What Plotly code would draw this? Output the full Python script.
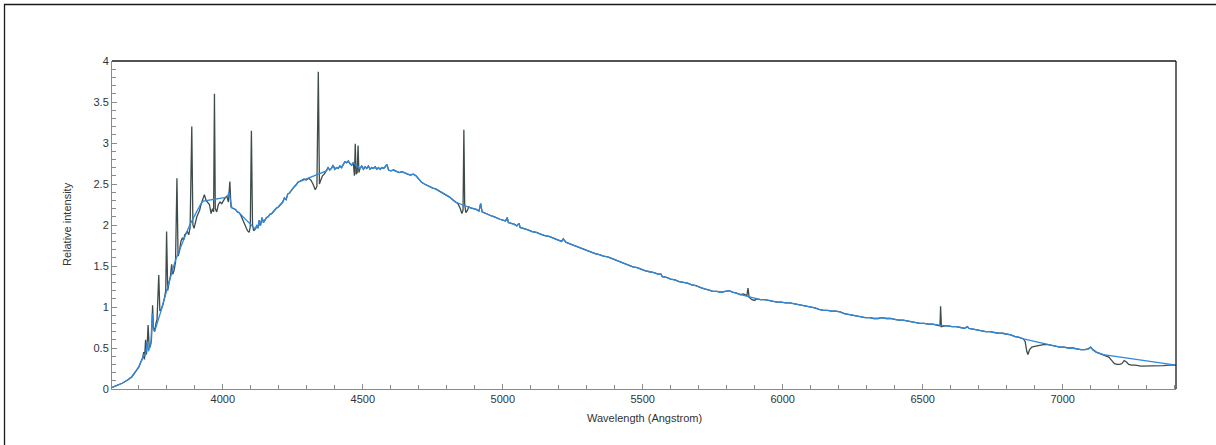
import plotly.graph_objects as go

# Continuum-corrected spectrum (shared by both traces outside the line windows)
base_wl = [
    3605, 3620, 3640, 3660, 3675, 3690, 3700, 3706, 3711, 3715, 3719, 3722, 3726, 3730,
    3734, 3738, 3743, 3748, 3752, 3757, 3763, 3770, 3778, 3786, 3794, 3802, 3810, 3818,
    3826, 3834, 3842, 3850, 3858, 3866, 3874, 3882, 3890, 3898, 3906, 3914, 3922, 3930,
    4016, 4022, 4032, 4038, 4045, 4052, 4058,
    4116, 4122, 4126, 4130, 4134, 4140, 4145, 4150, 4156, 4162, 4168, 4175, 4182, 4190,
    4198, 4206, 4214, 4220, 4226, 4232, 4238, 4244, 4250, 4256, 4262, 4268, 4274,
    4370, 4376, 4382, 4388, 4394, 4400, 4406, 4412, 4418, 4424, 4430, 4436, 4442, 4448,
    4454, 4460, 4466,
    4490, 4496, 4502, 4508, 4514, 4520, 4526, 4532, 4538, 4544, 4550, 4556, 4562, 4568,
    4574, 4580, 4586, 4592, 4600, 4610, 4620, 4630, 4640, 4650, 4660, 4670, 4680, 4690,
    4700, 4710, 4720, 4730, 4740, 4750, 4760, 4770, 4780, 4790, 4800, 4810, 4820, 4830,
    4885, 4895, 4905, 4915, 4921, 4926, 4932, 4940, 4950, 4960, 4970, 4980, 4990, 5000,
    5010, 5016, 5020, 5030, 5040, 5050, 5058, 5062, 5075, 5090, 5105, 5120, 5135, 5150,
    5165, 5180, 5195, 5210, 5216, 5225, 5240, 5255, 5270, 5285, 5300, 5315, 5330, 5345,
    5360, 5375, 5390, 5405, 5420, 5435, 5450, 5465, 5480, 5495, 5510, 5525, 5540, 5555,
    5565, 5570, 5585, 5600, 5615, 5630, 5645, 5660, 5675, 5690, 5705, 5720, 5735, 5750,
    5765, 5780, 5795, 5810, 5820, 5835, 5850,
    5905, 5920, 5935, 5950, 5965, 5980, 5995, 6010, 6025, 6040, 6055, 6070, 6085, 6100,
    6115, 6130, 6145, 6160, 6175, 6190, 6205, 6220, 6235, 6250, 6265, 6280, 6295, 6310,
    6325, 6340, 6355, 6370, 6385, 6400, 6415, 6430, 6445, 6460, 6475, 6490, 6505, 6520,
    6535, 6550, 6560,
    6578, 6590, 6605, 6620, 6635, 6650, 6660, 6665, 6680, 6695, 6710, 6725, 6740, 6755,
    6770, 6785, 6800, 6815, 6830, 6845, 6860,
    6960, 6975, 6990, 7005, 7020, 7035, 7050, 7065, 7080, 7092, 7100, 7108, 7120, 7135,
    7145, 7405,
]
base_flux = [
    0.02, 0.04, 0.07, 0.11, 0.15, 0.22, 0.27, 0.32, 0.36, 0.38, 0.43, 0.40, 0.46, 0.58,
    0.46, 0.50, 0.56, 0.92, 0.72, 0.71, 0.77, 0.85, 0.94, 1.04, 1.14, 1.24, 1.34, 1.43,
    1.52, 1.60, 1.67, 1.75, 1.82, 1.88, 1.94, 2.00, 2.06, 2.11, 2.16, 2.21, 2.26, 2.29,
    2.34, 2.40, 2.21, 2.20, 2.19, 2.16, 2.15,
    1.95, 2.00, 1.96, 2.06, 1.99, 2.09, 2.03, 2.06, 2.09, 2.10, 2.13, 2.14, 2.17, 2.20,
    2.22, 2.25, 2.28, 2.33, 2.31, 2.38, 2.39, 2.42, 2.45, 2.47, 2.49, 2.52, 2.53,
    2.66, 2.70, 2.67, 2.69, 2.73, 2.68, 2.70, 2.69, 2.72, 2.70, 2.74, 2.77, 2.76, 2.78,
    2.75, 2.73, 2.76,
    2.69, 2.72, 2.68, 2.71, 2.69, 2.72, 2.68, 2.70, 2.69, 2.71, 2.68, 2.70, 2.68, 2.70,
    2.69, 2.71, 2.74, 2.67, 2.66, 2.67, 2.65, 2.64, 2.65, 2.63, 2.62, 2.61, 2.62, 2.60,
    2.56, 2.52, 2.50, 2.48, 2.47, 2.45, 2.44, 2.42, 2.41, 2.38, 2.36, 2.34, 2.31, 2.28,
    2.21, 2.20, 2.19, 2.17, 2.26, 2.16, 2.15, 2.14, 2.12, 2.11, 2.10, 2.08, 2.07, 2.06,
    2.05, 2.09, 2.03, 2.02, 2.01, 1.99, 2.02, 1.97, 1.96, 1.94, 1.92, 1.91, 1.89, 1.87,
    1.86, 1.84, 1.82, 1.80, 1.83, 1.79, 1.77, 1.75, 1.73, 1.71, 1.69, 1.67, 1.65, 1.64,
    1.62, 1.61, 1.59, 1.57, 1.55, 1.53, 1.51, 1.49, 1.48, 1.46, 1.44, 1.43, 1.42, 1.40,
    1.40, 1.37, 1.36, 1.34, 1.33, 1.31, 1.30, 1.29, 1.27, 1.26, 1.24, 1.22, 1.21, 1.19,
    1.19, 1.18, 1.19, 1.20, 1.18, 1.17, 1.15,
    1.10, 1.09, 1.09, 1.08, 1.07, 1.06, 1.06, 1.05, 1.05, 1.04, 1.03, 1.02, 1.01, 1.00,
    0.99, 0.97, 0.96, 0.96, 0.95, 0.95, 0.94, 0.92, 0.91, 0.90, 0.89, 0.88, 0.87, 0.87,
    0.86, 0.86, 0.87, 0.86, 0.86, 0.85, 0.84, 0.84, 0.83, 0.82, 0.81, 0.80, 0.80, 0.79,
    0.79, 0.78, 0.78,
    0.77, 0.77, 0.76, 0.76, 0.75, 0.74, 0.76, 0.74, 0.73, 0.72, 0.71, 0.70, 0.70, 0.69,
    0.68, 0.68, 0.67, 0.66, 0.64, 0.63, 0.61,
    0.53, 0.52, 0.51, 0.51, 0.50, 0.50, 0.49, 0.48, 0.48, 0.49, 0.51, 0.48, 0.45, 0.43,
    0.42, 0.29,
]

# Wavelength windows where the observed spectrum has its own features
line_windows = [
    (3712, 3932), (3932, 4030), (4060, 4115), (4276, 4368), (4467, 4489),
    (4836, 4880), (5852, 5904), (6561, 6577), (6862, 6958), (7146, 7400),
]

# Observed spectrum inside those windows (emission lines, telluric bands)
line_wl = [
    3714, 3717, 3720, 3724, 3727, 3730, 3733, 3737, 3741, 3745, 3749, 3752, 3756, 3761,
    3765, 3771, 3775, 3780, 3786, 3792, 3796, 3799, 3803, 3808, 3813, 3817, 3821, 3826,
    3831, 3836, 3840, 3845, 3850, 3855, 3860, 3864, 3868, 3873, 3878, 3883, 3889, 3893,
    3897, 3902, 3907, 3912, 3917, 3922, 3927,
    3934, 3940, 3946, 3952, 3958, 3963, 3967, 3970, 3973, 3978, 3984, 3990, 3996, 4002,
    4008, 4014, 4020, 4025, 4029,
    4064, 4070, 4076, 4082, 4088, 4094, 4098, 4102, 4106, 4110, 4114,
    4282, 4290, 4298, 4306, 4314, 4322, 4330, 4336, 4341, 4345, 4350, 4356, 4362,
    4470, 4473, 4476, 4480, 4483, 4486,
    4840, 4848, 4854, 4858, 4861, 4864, 4868, 4874, 4878,
    5860, 5872, 5876, 5880, 5890, 5900,
    6562, 6564, 6567,
    6866, 6872, 6876, 6882, 6890, 6900, 6912, 6924, 6936, 6948,
    7155, 7165, 7175, 7185, 7195, 7205, 7212, 7220, 7228, 7236, 7246, 7260, 7280, 7300,
    7320, 7340, 7360, 7380, 7395,
]
line_flux = [
    0.38, 0.45, 0.36, 0.60, 0.42, 0.55, 0.78, 0.50, 0.52, 0.60, 1.02, 0.75, 0.70, 0.80,
    0.85, 1.39, 0.95, 0.97, 1.03, 1.12, 1.20, 1.92, 1.20, 1.30, 1.38, 1.52, 1.40, 1.45,
    1.55, 2.57, 1.62, 1.68, 1.80, 1.84, 1.82, 1.88, 1.90, 1.92, 1.88, 1.97, 3.20, 2.00,
    1.96, 2.05, 2.10, 2.14, 2.18, 2.25, 2.30,
    2.37, 2.30, 2.28, 2.25, 2.14, 2.20, 2.16, 3.60, 2.20, 2.16, 2.25, 2.28, 2.26, 2.30,
    2.33, 2.35, 2.28, 2.53, 2.22,
    2.12, 2.07, 2.02, 1.97, 1.93, 1.91, 1.98, 3.15, 2.00, 1.93, 1.94,
    2.55, 2.56, 2.55, 2.57, 2.55, 2.50, 2.43, 2.47, 3.87, 2.50, 2.55, 2.60, 2.62,
    2.60, 2.99, 2.62, 2.64, 2.97, 2.64,
    2.26, 2.20, 2.14, 2.18, 3.16, 2.25, 2.15, 2.18, 2.22,
    1.16, 1.14, 1.23, 1.12, 1.09, 1.08,
    0.77, 1.01, 0.76,
    0.58, 0.46, 0.42, 0.48, 0.51, 0.52, 0.53, 0.54, 0.545, 0.54,
    0.41, 0.39, 0.35, 0.31, 0.30, 0.30, 0.31, 0.345, 0.33, 0.30, 0.29, 0.29, 0.28, 0.28,
    0.28, 0.28, 0.285, 0.29, 0.29,
]


def in_window(w):
    return any(a <= w <= b for a, b in line_windows)


observed = sorted(
    [(w, f) for w, f in zip(base_wl, base_flux) if not in_window(w)]
    + list(zip(line_wl, line_flux))
)
obs_wl = [p[0] for p in observed]
obs_flux = [p[1] for p in observed]

fig = go.Figure()
fig.add_trace(go.Scatter(
    x=obs_wl, y=obs_flux, mode="lines",
    line=dict(color="#3c4c4a", width=1.3), hoverinfo="skip", showlegend=False,
))
fig.add_trace(go.Scatter(
    x=base_wl, y=base_flux, mode="lines",
    line=dict(color="#2f88dc", width=1.3), hoverinfo="skip", showlegend=False,
))

FONT = "Liberation Sans, Arial, sans-serif"
axis_common = dict(
    showline=True, linecolor="#8a8a8a", linewidth=1, mirror=False,
    ticks="inside", tickcolor="#8a8a8a", tickwidth=1, ticklen=5,
    showgrid=False, zeroline=False,
    tickfont=dict(family=FONT, size=11, color="#333333"),
)
fig.update_xaxes(
    range=[3604, 7405], tickmode="linear", tick0=4000, dtick=500,
    minor=dict(dtick=100, ticks="inside", ticklen=4, tickcolor="#8a8a8a", tickwidth=1),
    **axis_common,
)
fig.update_yaxes(
    range=[0, 4], tickmode="linear", tick0=0, dtick=0.5,
    minor=dict(dtick=0.1, ticks="inside", ticklen=4, tickcolor="#8a8a8a", tickwidth=1),
    **axis_common,
)

plot_w, plot_h = 1064, 328
shapes = [
    # top and right edges of the plot frame
    dict(type="line", xref="paper", yref="paper", x0=0, x1=1, y0=1, y1=1,
         line=dict(color="#1a1a1a", width=1.3)),
    dict(type="line", xref="paper", yref="paper", x0=1, x1=1, y0=0, y1=1,
         line=dict(color="#1a1a1a", width=1.3)),
    # outer panel border
    dict(type="rect", xref="paper", yref="paper",
         x0=(4.5 - 112) / plot_w, x1=(1230 - 112) / plot_w,
         y0=(389 - 460) / plot_h, y1=(389 - 4.5) / plot_h,
         line=dict(color="#1a1a1a", width=1.3), layer="below"),
]

annotations = [
    dict(text="Wavelength (Angstrom)", xref="paper", yref="paper",
         x=0.5, y=(389 - 418) / plot_h, showarrow=False,
         font=dict(family=FONT, size=11, color="#333333"),
         xanchor="center", yanchor="middle"),
    dict(text="Relative intensity", xref="paper", yref="paper",
         x=(67 - 112) / plot_w, y=(389 - 224) / plot_h, showarrow=False, textangle=-90,
         font=dict(family=FONT, size=11, color="#333333"),
         xanchor="center", yanchor="middle"),
]

fig.update_layout(
    width=1216, height=445,
    margin=dict(l=112, r=40, t=61, b=56, pad=0),
    paper_bgcolor="white", plot_bgcolor="white",
    shapes=shapes, annotations=annotations,
    showlegend=False,
)

fig.write_html("out.html")
